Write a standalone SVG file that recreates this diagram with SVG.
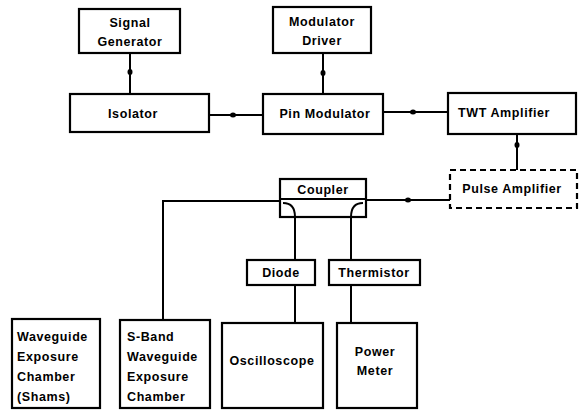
<svg xmlns="http://www.w3.org/2000/svg" xmlns:xlink="http://www.w3.org/1999/xlink" width="582" height="410" viewBox="0 0 582 410">
<style>
rect.b{fill:#fff;stroke:#000;stroke-width:2.2}
rect.n{fill:none;stroke:#000;stroke-width:2.2}
rect.d{fill:#fff;stroke:#000;stroke-width:2.2;stroke-dasharray:6 4}
text{font-family:"Liberation Sans",Arial,sans-serif;font-weight:bold;font-size:12.5px;letter-spacing:0.6px;fill:#000}
.c{text-anchor:middle}
.w path{fill:none;stroke:#000;stroke-width:2}
</style>
<defs>
<ellipse id="dot" cx="0" cy="0" rx="3" ry="2.5" fill="#000"/>
<ellipse id="vdot" cx="0" cy="0" rx="2.5" ry="3" fill="#000"/>
</defs>
<rect width="582" height="410" fill="#fff"/>
<g id="connectors" class="w">
<path d="M130,53 V94"/>
<path d="M209,115 H263"/>
<path d="M323,53 V94"/>
<path d="M383,112 H448"/>
<path d="M517,134 V170"/>
<path d="M450,200 H366"/>
<path d="M280,201 H163 V320"/>
<path d="M283,203 Q295,203 295,217 V260"/>
<path d="M363,203 Q351,203 351,217 V260"/>
<path d="M295,285 V323"/>
<path d="M351,285 V323"/>
<use xlink:href="#vdot" x="130" y="72"/>
<use xlink:href="#dot" x="233" y="115"/>
<use xlink:href="#vdot" x="323" y="73"/>
<use xlink:href="#dot" x="413" y="112"/>
<use xlink:href="#vdot" x="517" y="145"/>
<use xlink:href="#dot" x="408" y="200"/>
</g>
<g id="signal-generator"><rect class="b" x="79" y="9" width="101" height="44"/><text class="c" x="130" y="27">Signal</text><text class="c" x="130" y="46">Generator</text></g>
<g id="modulator-driver"><rect class="b" x="273" y="7" width="98" height="46"/><text class="c" x="322" y="26">Modulator</text><text class="c" x="322" y="45">Driver</text></g>
<g id="isolator"><rect class="b" x="70" y="94" width="139" height="38"/><text class="c" x="133" y="118" letter-spacing="1.5">Isolator</text></g>
<g id="pin-modulator"><rect class="b" x="263" y="94" width="120" height="40"/><text class="c" x="325" y="118" letter-spacing="1">Pin Modulator</text></g>
<g id="twt-amplifier"><rect class="b" x="448" y="93" width="128" height="41"/><text x="458" y="117" letter-spacing="1">TWT  Amplifier</text></g>
<g id="pulse-amplifier"><rect class="d" x="450" y="170" width="127" height="38"/><text class="c" x="512" y="193">Pulse  Amplifier</text></g>
<g id="coupler"><rect class="n" x="280" y="179" width="86" height="38"/><path d="M280,199 H366" stroke="#000" stroke-width="2"/><text class="c" x="323" y="194">Coupler</text></g>
<g id="diode"><rect class="b" x="247" y="260" width="68" height="25"/><text class="c" x="281" y="277">Diode</text></g>
<g id="thermistor"><rect class="b" x="329" y="260" width="91" height="25"/><text class="c" x="374" y="277">Thermistor</text></g>
<g id="waveguide-shams"><rect class="b" x="12" y="319" width="88" height="89"/><text x="17" y="341" letter-spacing="0">Waveguide</text><text x="17" y="361">Exposure</text><text x="17" y="381">Chamber</text><text x="17" y="401">(Shams)</text></g>
<g id="s-band"><rect class="b" x="120" y="320" width="90" height="88"/><text x="127" y="341">S-Band</text><text x="127" y="361" letter-spacing="0">Waveguide</text><text x="127" y="381">Exposure</text><text x="127" y="401">Chamber</text></g>
<g id="oscilloscope"><rect class="b" x="222" y="323" width="101" height="85"/><text class="c" x="272" y="365">Oscilloscope</text></g>
<g id="power-meter"><rect class="b" x="337" y="323" width="80" height="85"/><text class="c" x="375" y="356">Power</text><text class="c" x="375" y="375">Meter</text></g>
</svg>
